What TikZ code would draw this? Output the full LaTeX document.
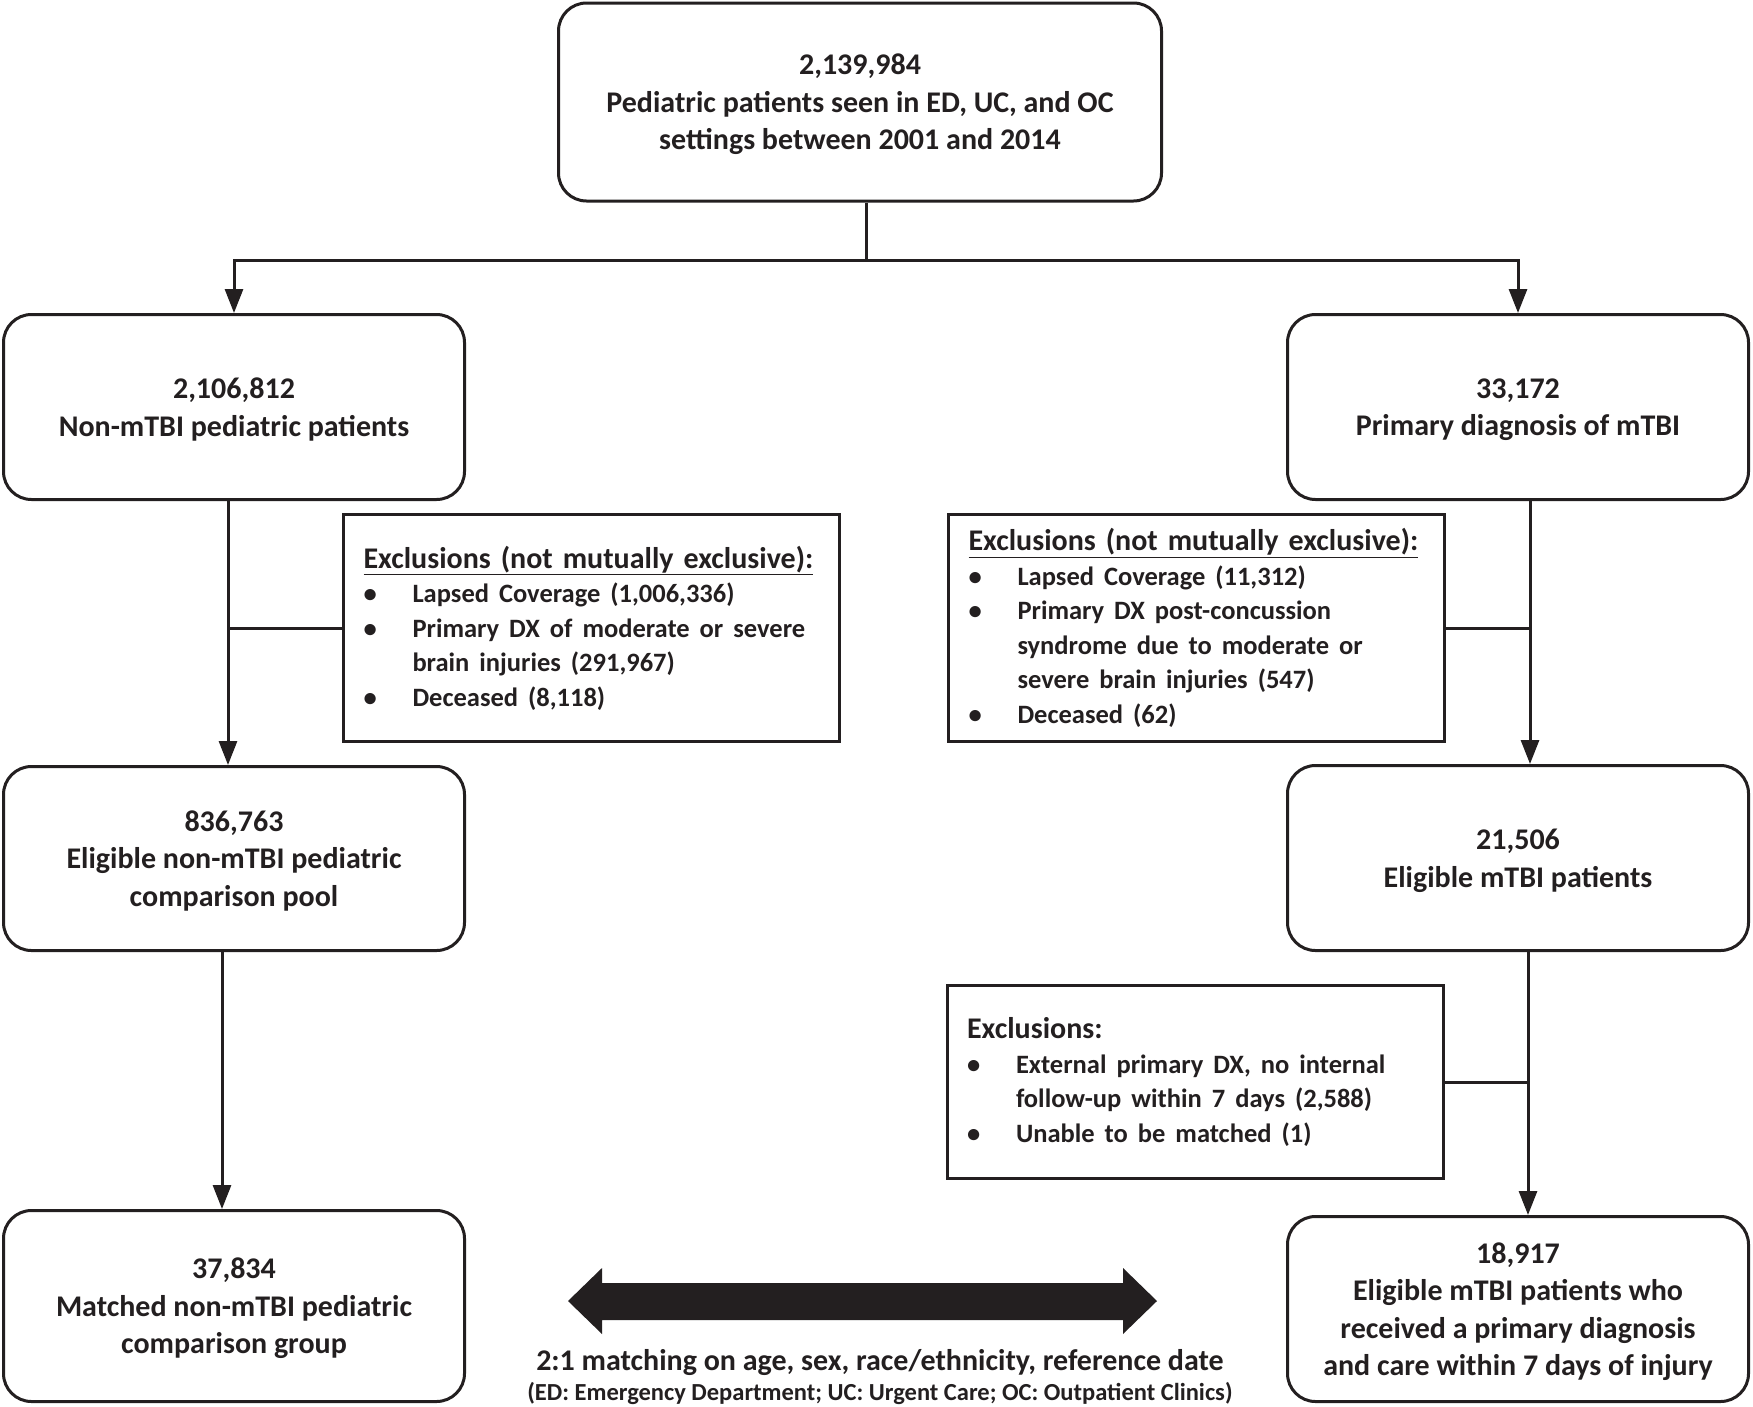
\documentclass[tikz,border=0pt]{standalone}
\usepackage{fontspec}
\setmainfont{Carlito}
\usetikzlibrary{arrows.meta}

\definecolor{ink}{HTML}{231F20}
\newcommand\bitem{\makebox[49pt][l]{\textbullet}}
\newcommand\bcont{\hspace*{49pt}}
\newcommand\itemsize{\fontsize{26.5}{34.5}\selectfont}

\tikzset{
  rbox/.style={draw=ink, text=ink, line width=3pt, rounded corners=28pt, align=center,
    minimum width=461pt, text depth=0pt, font=\fontsize{30}{37.5}\selectfont\bfseries},
  xbox/.style={draw=ink, text=ink, line width=3pt, align=left, inner xsep=20pt,
    text width=456pt, font=\fontsize{30}{34.5}\selectfont\bfseries},
  conn/.style={draw=ink, line width=3pt},
  arr/.style={conn, -{Triangle[length=24pt,width=18pt]}},
}

\begin{document}
\begin{tikzpicture}[x=1pt,y=-1pt]
  \useasboundingbox (0,0) rectangle (1753,1406);
  % boxes
  \node[rbox, minimum width=603pt, minimum height=198pt] (all) at (860,102)
    {2,139,984\\Pediatric patients seen in ED, UC, and OC\\settings between 2001 and 2014};
  \node[rbox, minimum height=185pt] (nonmtbi) at (234,407) {2,106,812\\Non-mTBI pediatric patients};
  \node[rbox, minimum height=185pt] (mtbi) at (1518,407) {33,172\\Primary diagnosis of mTBI};
  \node[rbox, minimum height=184pt] (pool) at (234,858.5)
    {836,763\\Eligible non-mTBI pediatric\\comparison pool};
  \node[rbox, minimum height=185pt] (elig) at (1518,858) {21,506\\Eligible mTBI patients};
  \node[rbox, minimum height=191pt] (matched) at (234,1306)
    {37,834\\Matched non-mTBI pediatric\\comparison group};
  \node[rbox, minimum height=185pt] (final) at (1518,1309)
    {18,917\\Eligible mTBI patients who\\received a primary diagnosis\\and care within 7 days of injury};
  % exclusions
  \node[xbox, minimum height=227pt] (exnon) at (591.5,628)
    {\underline{Exclusions (not mutually exclusive):}\\ \itemsize
     \bitem Lapsed Coverage (1,006,336)\\
     \bitem Primary DX of moderate or severe\\
     \bcont brain injuries (291,967)\\
     \bitem Deceased (8,118)};
  \node[xbox, minimum height=227pt] (exmtbi) at (1196.5,628)
    {\underline{Exclusions (not mutually exclusive):}\\ \itemsize
     \bitem Lapsed Coverage (11,312)\\
     \bitem Primary DX post-concussion\\
     \bcont syndrome due to moderate or\\
     \bcont severe brain injuries (547)\\
     \bitem Deceased (62)};
  \node[xbox, minimum height=193pt] (exelig) at (1195,1082)
    {Exclusions:\\ \itemsize
     \bitem External primary DX, no internal\\
     \bcont follow-up within 7 days (2,588)\\
     \bitem Unable to be matched (1)};
  % connectors
  \coordinate (split) at (866,260);
  \coordinate (lineL) at ([xshift=-6pt]nonmtbi.south);
  \coordinate (lineL2) at ([xshift=-12pt]pool.south);
  \coordinate (lineR) at ([xshift=12pt]mtbi.south);
  \coordinate (lineR2) at ([xshift=10pt]elig.south);
  \draw[conn] (all.south -| split) -- (split);
  \draw[arr] (split) -| (nonmtbi.north);
  \draw[arr] (split) -| (mtbi.north);
  \draw[arr] (lineL) -- (lineL |- pool.north);
  \draw[conn] (exnon.west) -- (exnon.west -| lineL);
  \draw[arr] (lineL2) -- (lineL2 |- matched.north);
  \draw[arr] (lineR) -- (lineR |- elig.north);
  \draw[conn] (exmtbi.east) -- (exmtbi.east -| lineR);
  \draw[arr] (lineR2) -- (lineR2 |- final.north);
  \draw[conn] (exelig.east) -- (exelig.east -| lineR2);
  % matching arrow
  \fill[ink] (568,1301) -- (602,1268) -- (602,1283) -- (1123,1283) -- (1123,1268)
    -- (1157,1301) -- (1123,1334) -- (1123,1320) -- (602,1320) -- (602,1334) -- cycle;
  \node[text=ink, font=\fontsize{30}{36}\selectfont\bfseries] (match) at (880,1362)
    {2:1 matching on age, sex, race/ethnicity, reference date};
  \node[text=ink, font=\fontsize{24.5}{30}\selectfont\bfseries] (abbr) at (880,1393)
    {(ED: Emergency Department; UC: Urgent Care; OC: Outpatient Clinics)};
\end{tikzpicture}
\end{document}
